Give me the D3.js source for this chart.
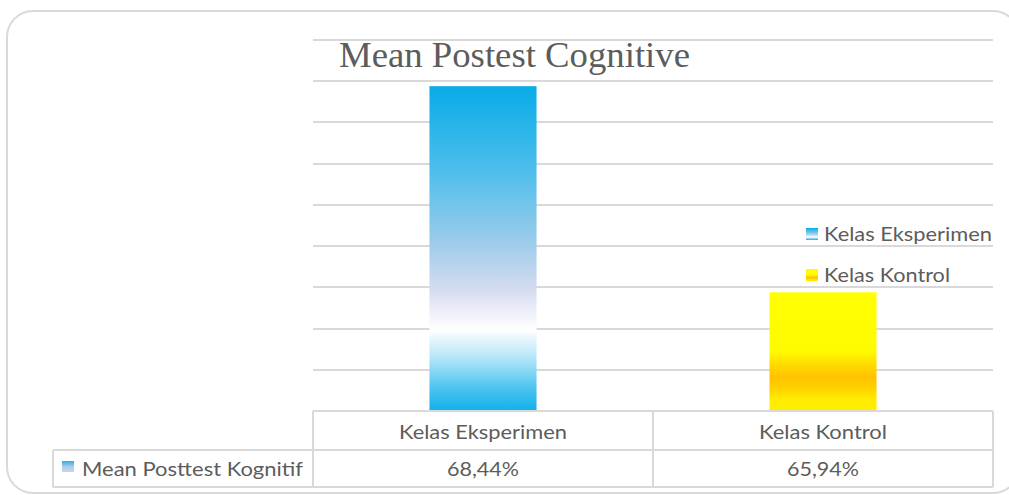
<!DOCTYPE html>
<html>
<head>
<meta charset="utf-8">
<script src="https://cdn.jsdelivr.net/npm/d3@7"></script>
<style>
  html, body { margin: 0; padding: 0; background: #ffffff; }
  svg { display: block; }
</style>
</head>
<body>
<svg id="chart" width="1009" height="495"></svg>
<script>
// Chart data
const title = "Mean Postest Cognitive";
const categories = ["Kelas Eksperimen", "Kelas Kontrol"];
const values = [68.44, 65.94];
const valueLabels = ["68,44%", "65,94%"];
const seriesName = "Mean Posttest Kognitif";
const yDomain = [64.5, 69];

const svg = d3.select("#chart");
const textColor = "#5c5c5c";
const lineColor = "#d9d9d9";
const sansFont = "Lato, 'Open Sans', sans-serif";
const sansSize = 19;

// Plot geometry
const plot = { left: 313, right: 993, top: 40, bottom: 411 };
const table = { rowMid: 450, bottom: 487, legendLeft: 53 };

const x = d3.scaleBand().domain(categories).range([plot.left, plot.right]).padding(0);
const y = d3.scaleLinear().domain(yDomain).range([plot.bottom, plot.top]);

// Gradients for the two bar fills
const defs = svg.append("defs");
const blue = defs.append("linearGradient").attr("id", "gBlue")
  .attr("x1", 0).attr("y1", 0).attr("x2", 0).attr("y2", 1);
[[0, "#08ace8"], [0.25, "#4abdec"], [0.47, "#98cbea"], [0.63, "#d6dcf0"],
 [0.72, "#f6f6fc"], [0.75, "#ffffff"], [0.84, "#b0e4f8"], [0.93, "#4cc4f0"], [1, "#10b0ea"]]
  .forEach(([o, c]) => blue.append("stop").attr("offset", o).attr("stop-color", c));

const yellow = defs.append("linearGradient").attr("id", "gYellow")
  .attr("x1", 0).attr("y1", 0).attr("x2", 0).attr("y2", 1);
[[0, "#ffff00"], [0.5, "#fffa00"], [0.62, "#ffd800"], [0.72, "#ffc200"],
 [0.8, "#ffd000"], [0.9, "#ffec00"], [1, "#ffee00"]]
  .forEach(([o, c]) => yellow.append("stop").attr("offset", o).attr("stop-color", c));

const legendBlue = defs.append("linearGradient").attr("id", "gLegendBlue")
  .attr("x1", 0).attr("y1", 0).attr("x2", 0).attr("y2", 1);
[[0, "#2aaee6"], [0.5, "#a6cdec"], [1, "#d0d2ee"]]
  .forEach(([o, c]) => legendBlue.append("stop").attr("offset", o).attr("stop-color", c));

const fills = ["url(#gBlue)", "url(#gYellow)"];

// Outer rounded frame
svg.append("rect")
  .attr("x", 7).attr("y", 11).attr("width", 1012).attr("height", 482)
  .attr("rx", 26).attr("ry", 26)
  .attr("fill", "#ffffff").attr("stroke", lineColor).attr("stroke-width", 2);

// Horizontal gridlines
svg.append("g").selectAll("line")
  .data(y.ticks(9).filter(v => v > yDomain[0]))
  .join("line")
  .attr("x1", plot.left).attr("x2", plot.right)
  .attr("y1", d => Math.round(y(d))).attr("y2", d => Math.round(y(d)))
  .attr("stroke", lineColor).attr("stroke-width", 2);

// Title
svg.append("text")
  .attr("x", 339).attr("y", 67)
  .attr("font-family", "'Liberation Serif', 'Times New Roman', serif")
  .attr("font-size", 36)
  .attr("fill", textColor)
  .attr("textLength", 351).attr("lengthAdjust", "spacingAndGlyphs")
  .text(title);

// Bars
const barW = x.bandwidth() * 0.315;
svg.append("g").selectAll("rect")
  .data(categories)
  .join("rect")
  .attr("x", d => x(d) + x.bandwidth() / 2 - barW / 2)
  .attr("y", (d, i) => y(values[i]))
  .attr("width", barW)
  .attr("height", (d, i) => y(yDomain[0]) - y(values[i]))
  .attr("fill", (d, i) => fills[i]);

// Data table under the plot
const tg = svg.append("g").attr("stroke", lineColor).attr("stroke-width", 2).attr("fill", "none");
tg.append("line").attr("x1", plot.left).attr("x2", plot.right).attr("y1", plot.bottom).attr("y2", plot.bottom);
tg.append("line").attr("x1", table.legendLeft).attr("x2", plot.right).attr("y1", table.rowMid).attr("y2", table.rowMid);
tg.append("line").attr("x1", table.legendLeft).attr("x2", plot.right).attr("y1", table.bottom).attr("y2", table.bottom);
tg.append("line").attr("x1", table.legendLeft).attr("x2", table.legendLeft).attr("y1", table.rowMid).attr("y2", table.bottom);
tg.selectAll("line.col")
  .data(categories.map(c => x(c)).concat([plot.right]))
  .join("line").attr("class", "col")
  .attr("x1", d => d).attr("x2", d => d)
  .attr("y1", plot.bottom).attr("y2", table.bottom);

// Category names and value labels
const catWidths = [168, 128];
const valWidths = [72, 72];
svg.append("g").selectAll("text")
  .data(categories)
  .join("text")
  .attr("x", d => x(d) + x.bandwidth() / 2)
  .attr("y", 439)
  .attr("text-anchor", "middle")
  .attr("font-family", sansFont).attr("font-size", sansSize).attr("fill", textColor)
  .attr("textLength", (d, i) => catWidths[i]).attr("lengthAdjust", "spacingAndGlyphs")
  .text(d => d);

svg.append("g").selectAll("text")
  .data(categories)
  .join("text")
  .attr("x", d => x(d) + x.bandwidth() / 2)
  .attr("y", 476)
  .attr("text-anchor", "middle")
  .attr("font-family", sansFont).attr("font-size", sansSize).attr("fill", textColor)
  .attr("textLength", (d, i) => valWidths[i]).attr("lengthAdjust", "spacingAndGlyphs")
  .text((d, i) => valueLabels[i]);

// Series key in the table
svg.append("rect")
  .attr("x", 62).attr("y", 461).attr("width", 12).attr("height", 11)
  .attr("fill", "url(#gLegendBlue)");
svg.append("text")
  .attr("x", 82).attr("y", 476)
  .attr("font-family", sansFont).attr("font-size", sansSize).attr("fill", textColor)
  .attr("textLength", 221).attr("lengthAdjust", "spacingAndGlyphs")
  .text(seriesName);

// Category legend on the right
const legendY = [241, 282];
const legendWidths = [168, 126];
const lg = svg.append("g").selectAll("g")
  .data(categories)
  .join("g")
  .attr("transform", (d, i) => `translate(806, ${legendY[i]})`);
lg.append("rect")
  .attr("x", 0).attr("y", -13).attr("width", 12).attr("height", 12)
  .attr("fill", (d, i) => fills[i]);
lg.append("text")
  .attr("x", 18).attr("y", 0)
  .attr("font-family", sansFont).attr("font-size", sansSize).attr("fill", textColor)
  .attr("textLength", (d, i) => legendWidths[i]).attr("lengthAdjust", "spacingAndGlyphs")
  .text(d => d);
</script>
</body>
</html>
